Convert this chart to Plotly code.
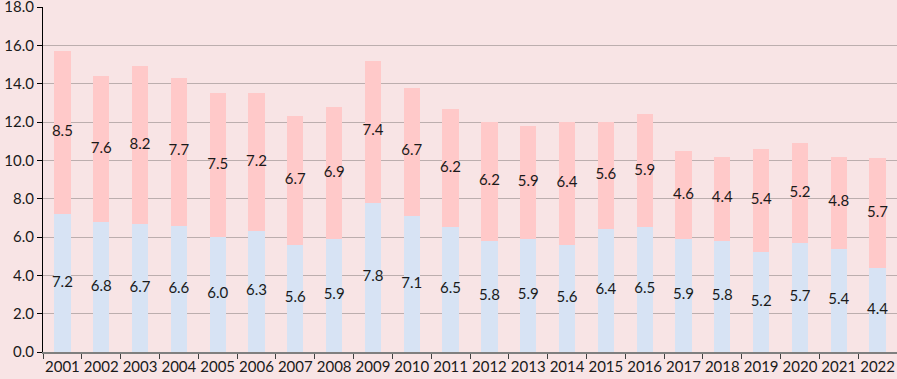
import plotly.graph_objects as go

years = [str(y) for y in range(2001, 2023)]
lower = [7.2, 6.8, 6.7, 6.6, 6.0, 6.3, 5.6, 5.9, 7.8, 7.1, 6.5, 5.8, 5.9, 5.6, 6.4, 6.5, 5.9, 5.8, 5.2, 5.7, 5.4, 4.4]
upper = [8.5, 7.6, 8.2, 7.7, 7.5, 7.2, 6.7, 6.9, 7.4, 6.7, 6.2, 6.2, 5.9, 6.4, 5.6, 5.9, 4.6, 4.4, 5.4, 5.2, 4.8, 5.7]
y_ticks = [0, 2, 4, 6, 8, 10, 12, 14, 16, 18]

FONT = "Lato"
fig = go.Figure()
fig.add_bar(x=years, y=lower, marker=dict(color="#D7E3F4", line=dict(width=0)), hoverinfo="y")
fig.add_bar(x=years, y=upper, marker=dict(color="#FFC9C9", line=dict(width=0)), hoverinfo="y")

fig.add_scatter(x=years, y=[v / 2 for v in lower], mode="text",
                text=[f"{v:.1f}" for v in lower], textposition="middle center",
                textfont=dict(family=FONT, size=15, color="#1a1a1a"), hoverinfo="skip")
fig.add_scatter(x=years, y=[a + b / 2 for a, b in zip(lower, upper)], mode="text",
                text=[f"{v:.1f}" for v in upper], textposition="middle center",
                textfont=dict(family=FONT, size=15, color="#1a1a1a"), hoverinfo="skip")

fig.update_layout(
    barmode="stack", bargap=0.58, showlegend=False,
    width=897, height=379,
    margin=dict(l=43, r=0, t=7, b=27),
    paper_bgcolor="#F8E4E5", plot_bgcolor="#F8E4E5",
    font=dict(family=FONT, size=15, color="#1a1a1a"),
)
fig.update_xaxes(type="category", range=[-0.5, len(years) - 0.5],
                 showline=True, linecolor="#7f7f7f", linewidth=1.5,
                 ticks="outside", tickson="boundaries", ticklen=5, tickcolor="#404040",
                 tickangle=0, automargin=False,
                 tickfont=dict(family=FONT, size=15, color="#1a1a1a"), showgrid=False)
fig.update_yaxes(range=[0, 18.0001], tickvals=y_ticks, tickformat=".1f",
                 showline=True, linecolor="#000000", linewidth=1,
                 ticks="outside", ticklen=5, tickcolor="#000000", automargin=False,
                 ticklabeloverflow="allow",
                 gridcolor="#BCAEAE", gridwidth=1, zeroline=False,
                 tickfont=dict(family=FONT, size=15, color="#1a1a1a"))

fig.write_html("out.html", config={"displayModeBar": False},
               post_script="document.body.style.margin='0px';document.body.style.background='#F8E4E5';")
